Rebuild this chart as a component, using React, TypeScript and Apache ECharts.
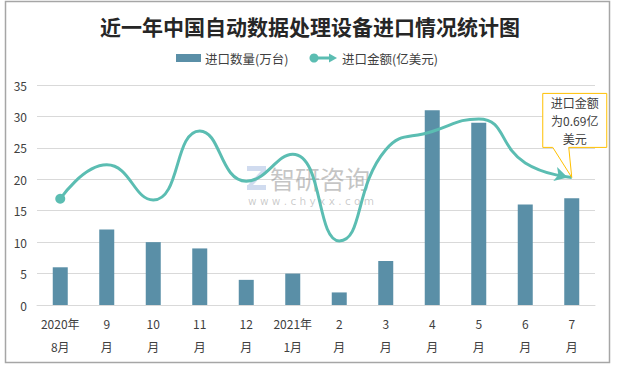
import React, { useEffect, useRef } from "react";
import * as echarts from "echarts";

const categories = ["2020年\n8月", "9\n月", "10\n月", "11\n月", "12\n月", "2021年\n1月", "2\n月", "3\n月", "4\n月", "5\n月", "6\n月", "7\n月"];
const quantity = [6, 12, 10, 9, 4, 5, 2, 7, 31, 29, 16, 17];
const amount = [16.9, 22.3, 16.7, 27.7, 19.7, 24.0, 10.2, 24.7, 27.6, 29.6, 22.6, 20.3];
const yTicks = { min: 0, max: 35, interval: 5 };
const title = "近一年中国自动数据处理设备进口情况统计图";
const legendNames = ["进口数量(万台)", "进口金额(亿美元)"];
const calloutText = "进口金额\n为0.69亿\n美元";

const BAR = "#5a8fa7";
const LINE = "#5bbdb2";
const TXT = "#404040";

export default function App() {
  const ref = useRef<HTMLDivElement>(null);
  useEffect(() => {
    if (!ref.current) return;
    const chart = echarts.init(ref.current, null, { renderer: "svg" });
    const lineData = amount.map((v, i) => {
      if (i === 0) return { value: v, symbol: "circle", symbolSize: 10 };
      if (i === amount.length - 1)
        return { value: v, symbol: "arrow", symbolSize: [11, 13], symbolRotate: -105, symbolOffset: [-4, 0] };
      return { value: v, symbol: "none" };
    });
    chart.setOption({
      animation: false,
      backgroundColor: "#ffffff",
      title: {
        text: title,
        left: "center",
        top: 10,
        textStyle: { fontSize: 21, fontWeight: "bold", color: "#262626", fontFamily: "Noto Sans CJK SC" },
      },
      grid: { left: 37, right: 25, top: 85, bottom: 62 },
      xAxis: {
        type: "category",
        data: categories,
        axisLine: { lineStyle: { color: "#d9d9d9" } },
        axisTick: { show: false },
        axisLabel: { color: TXT, fontSize: 12, lineHeight: 23, margin: 7, interval: 0, fontFamily: "Noto Sans CJK SC" },
      },
      yAxis: {
        type: "value",
        ...yTicks,
        axisLine: { show: false },
        axisTick: { show: false },
        splitLine: { lineStyle: { color: "#d9d9d9" } },
        axisLabel: { color: TXT, fontSize: 12, margin: 10, fontFamily: "Noto Sans CJK SC" },
      },
      series: [
        {
          name: legendNames[0],
          type: "bar",
          data: quantity,
          barWidth: 15,
          itemStyle: { color: BAR },
        },
        {
          name: legendNames[1],
          type: "line",
          data: lineData,
          smooth: 0.5,
          lineStyle: { color: LINE, width: 3 },
          itemStyle: { color: LINE },
          z: 5,
        },
      ],
    });

    const tip = chart.convertToPixel({ seriesIndex: 1 }, [amount.length - 1, amount[amount.length - 1]]) as number[];
    const tx = tip[0], ty = tip[1];
    const L = tx - 29, R = tx + 35, T = ty - 84, B = ty - 30;

    chart.setOption({
      graphic: [
        {
          type: "rect",
          shape: { x: 5.5, y: 1.5, width: 604, height: 361 },
          style: { fill: "none", stroke: "#a6a6a6", lineWidth: 1.5 },
          silent: true,
        },
        // legend
        { type: "rect", shape: { x: 176, y: 54, width: 25, height: 8 }, style: { fill: BAR } },
        {
          type: "text", x: 205, y: 58,
          style: { text: legendNames[0], fill: TXT, fontSize: 12.5, verticalAlign: "middle", fontFamily: "Noto Sans CJK SC" },
        },
        { type: "line", shape: { x1: 314, y1: 58, x2: 331, y2: 58 }, style: { stroke: LINE, lineWidth: 3 } },
        { type: "circle", shape: { cx: 314, cy: 58, r: 4.5 }, style: { fill: LINE } },
        { type: "polygon", shape: { points: [[329, 53.5], [337, 58], [329, 62.5]] }, style: { fill: LINE } },
        {
          type: "text", x: 342, y: 58,
          style: { text: legendNames[1], fill: TXT, fontSize: 12.5, verticalAlign: "middle", fontFamily: "Noto Sans CJK SC" },
        },
        // watermark
        {
          type: "group", silent: true, z: 0,
          children: [
            { type: "rect", shape: { x: 247, y: 166, width: 19, height: 5 }, style: { fill: "rgba(170,190,225,0.55)" } },
            { type: "polygon", shape: { points: [[261, 171], [266, 171], [253, 185], [248, 185]] }, style: { fill: "rgba(170,190,225,0.55)" } },
            { type: "rect", shape: { x: 247, y: 185, width: 19, height: 5 }, style: { fill: "rgba(170,190,225,0.55)" } },
            {
              type: "text", x: 270, y: 178,
              style: { text: "智研咨询", fill: "rgba(140,140,140,0.5)", fontSize: 25, verticalAlign: "middle", fontFamily: "Noto Sans CJK SC" },
            },
            {
              type: "text", x: 248, y: 201,
              style: { text: "w w w . c h y x x . c o m", fill: "rgba(140,140,140,0.45)", fontSize: 10.5, verticalAlign: "middle", fontFamily: "DejaVu Sans" },
            },
          ],
        },
        // callout
        {
          type: "polygon",
          z: 10,
          shape: { points: [[L, T], [R, T], [R, B], [tx - 3, B], [tx, ty], [tx - 19, B], [L, B]] },
          style: { fill: "#ffffff", stroke: "#ffc000", lineWidth: 1 },
        },
        {
          type: "text", z: 11, x: (L + R) / 2, y: (T + B) / 2,
          style: {
            text: calloutText, fill: TXT, fontSize: 12, lineHeight: 18,
            align: "center", verticalAlign: "middle", fontFamily: "Noto Sans CJK SC",
          },
        },
      ],
    });
    return () => chart.dispose();
  }, []);
  return (
    <div style={{ position: "absolute", left: 0, top: 0, width: 620, height: 367, background: "#fff" }}>
      <div ref={ref} style={{ width: 620, height: 367 }} />
    </div>
  );
}
